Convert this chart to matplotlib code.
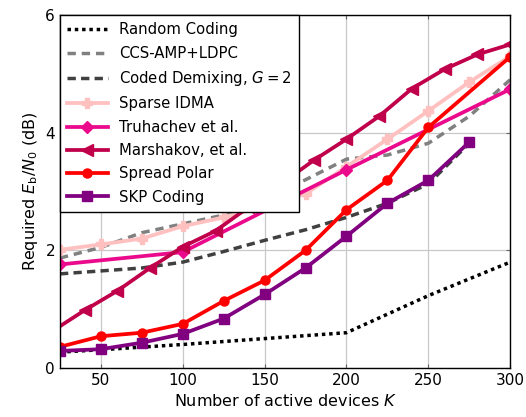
import matplotlib
matplotlib.use("Agg")
import matplotlib.pyplot as plt

plt.rcParams['font.family'] = ['DejaVu Sans']
plt.rcParams['mathtext.fontset'] = 'dejavusans'

# ---------------- data ----------------
k_random = [25, 50, 100, 150, 200, 250, 300]
v_random = [0.27, 0.31, 0.40, 0.50, 0.60, 1.23, 1.80]

k_ccs = [25, 50, 75, 100, 125, 150, 175, 200, 225, 250, 275, 300]
v_ccs = [1.87, 2.05, 2.30, 2.45, 2.60, 2.85, 3.20, 3.55, 3.62, 3.82, 4.28, 4.90]

k_demix = [25, 50, 75, 100, 125, 150, 175, 200, 225, 250, 275]
v_demix = [1.60, 1.65, 1.70, 1.80, 1.98, 2.17, 2.35, 2.56, 2.80, 3.13, 3.82]

k_idma = [25, 50, 75, 100, 125, 150, 175, 200, 225, 250, 275, 300]
v_idma = [2.01, 2.10, 2.20, 2.41, 2.56, 2.75, 2.96, 3.42, 3.89, 4.37, 4.86, 5.30]

k_truh = [25, 100, 200, 300]
v_truh = [1.76, 1.97, 3.37, 4.74]

k_marsh = [20, 40, 60, 80, 100, 120, 140, 160, 180, 200, 220, 240, 260, 280, 300]
v_marsh = [0.62, 0.98, 1.31, 1.70, 2.06, 2.33, 2.73, 3.13, 3.53, 3.89, 4.28, 4.75, 5.08, 5.33, 5.50]

k_polar = [25, 50, 75, 100, 125, 150, 175, 200, 225, 250, 300]
v_polar = [0.36, 0.54, 0.60, 0.75, 1.14, 1.49, 2.00, 2.69, 3.19, 4.09, 5.29]

k_skp = [25, 50, 75, 100, 125, 150, 175, 200, 225, 250, 275]
v_skp = [0.29, 0.32, 0.43, 0.58, 0.84, 1.25, 1.70, 2.24, 2.80, 3.19, 3.84]

x_ticks = [50, 100, 150, 200, 250, 300]
y_ticks = [0, 2, 4, 6]

# ---------------- plot ----------------
fig = plt.figure(figsize=(5.26, 4.17), dpi=100)
ax = fig.add_axes([0.114, 0.1175, 0.856, 0.8465])

lw = 2.7
ax.plot(k_random, v_random, color='black', lw=2.5, ls=(0, (1, 1.1)),
        label='Random Coding')
ax.plot(k_ccs, v_ccs, color='#808080', lw=2.5, ls=(0, (2.4, 1.7)),
        label='CCS-AMP+LDPC')
ax.plot(k_demix, v_demix, color='#404040', lw=2.5, ls=(0, (2.4, 1.5)),
        label='Coded Demixing, $G=2$')
ax.plot(k_idma, v_idma, color='#FFC0C0', lw=lw, marker='P', ms=6.5,
        label='Sparse IDMA')
ax.plot(k_truh, v_truh, color='#EB0A8C', lw=lw, marker='D', ms=6,
        label='Truhachev et al.')
ax.plot(k_marsh, v_marsh, color='#C0004A', lw=lw, marker='<', ms=8,
        label='Marshakov, et al.')
ax.plot(k_polar, v_polar, color='#FF0000', lw=lw, marker='o', ms=6.5,
        label='Spread Polar')
ax.plot(k_skp, v_skp, color='#800080', lw=lw, marker='s', ms=6.5,
        label='SKP Coding')

ax.set_xlim(25, 300)
ax.set_ylim(0, 6)
ax.set_xticks(x_ticks)
ax.set_yticks(y_ticks)
ax.grid(True, color='#c8c8c8', lw=0.9)
ax.set_axisbelow(True)
ax.tick_params(direction='in', length=3, labelsize=11, top=True, right=True,
               color='#666666')
for s in ax.spines.values():
    s.set_linewidth(1.0)
    s.set_color('black')

ax.set_xlabel('Number of active devices $K$', fontsize=11.5, labelpad=4)
ax.set_ylabel('Required $E_{\\mathrm{b}}/N_0$ (dB)', fontsize=11.5)

leg = ax.legend(loc='upper left', borderaxespad=0, fancybox=False,
                edgecolor='black', framealpha=1, fontsize=10.7,
                handlelength=2.7, labelspacing=0.56, borderpad=0.5)
leg.get_frame().set_linewidth(1.0)

fig.savefig('out.png', dpi=100)
